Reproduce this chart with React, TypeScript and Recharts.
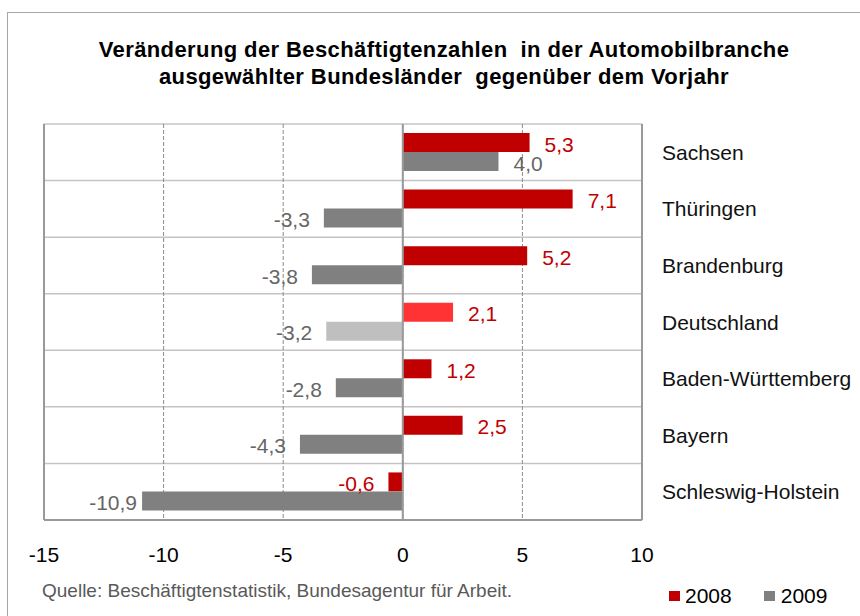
import { BarChart, Bar, XAxis, YAxis, CartesianGrid, ReferenceLine, Cell, LabelList } from "recharts";

const states = [
  "Sachsen",
  "Thüringen",
  "Brandenburg",
  "Deutschland",
  "Baden-Württemberg",
  "Bayern",
  "Schleswig-Holstein",
];
const values2008 = [5.3, 7.1, 5.2, 2.1, 1.2, 2.5, -0.6];
const values2009 = [4.0, -3.3, -3.8, -3.2, -2.8, -4.3, -10.9];
const xTicks = [-15, -10, -5, 0, 5, 10];
const highlighted = "Deutschland";
const seriesNames = ["2008", "2009"];

const data = states.map((name, i) => ({ name, v2008: values2008[i], v2009: values2009[i] }));

const FONT = "'Liberation Sans', Arial, Helvetica, sans-serif";
const RED = "#C00000";
const RED_LIGHT = "#FF3333";
const GRAY = "#808080";
const GRAY_LIGHT = "#BFBFBF";

const fmt = (v: number) => v.toFixed(1).replace(".", ",");

// value label: right of positive bars, left of negative ones
const makeLabel = (color: string) => (props: any) => {
  const { x, y, width, height, value } = props;
  const v = Number(value);
  const a = Number(x);
  const b = a + Number(width);
  const end = v >= 0 ? Math.max(a, b) : Math.min(a, b);
  const tx = v >= 0 ? end + 15 : end - (v < -10 ? 5 : 14);
  return (
    <text
      x={tx}
      y={Number(y) + Number(height) / 2 + 1.5}
      textAnchor={v >= 0 ? "start" : "end"}
      dominantBaseline="central"
      fill={color}
      fontSize={21}
      fontFamily={FONT}
    >
      {fmt(v)}
    </text>
  );
};

const XTick = (p: any) => (
  <text x={p.x} y={p.y + 42} textAnchor="middle" fill="#000" fontSize={21} fontFamily={FONT}>
    {p.payload.value}
  </text>
);

const YTick = (p: any) => (
  <text x={p.x + 20} y={p.y} dominantBaseline="central" textAnchor="start" fill="#111" fontSize={21} fontFamily={FONT}>
    {p.payload.value}
  </text>
);

export default function App() {
  return (
    <div
      style={{
        position: "absolute",
        left: 0,
        top: 0,
        width: 860,
        height: 616,
        overflow: "hidden",
        background: "#fff",
        fontFamily: FONT,
      }}
    >
      <div
        style={{
          position: "absolute",
          left: 7,
          top: 12,
          width: 900,
          height: 700,
          borderLeft: "1.5px solid #a6a6a6",
          borderTop: "1.5px solid #a6a6a6",
        }}
      />
      <div
        style={{
          position: "absolute",
          left: 44,
          top: 36,
          width: 800,
          textAlign: "center",
          fontWeight: "bold",
          fontSize: 22,
          letterSpacing: 0.4,
          lineHeight: "27px",
          whiteSpace: "pre",
          color: "#000",
        }}
      >
        {"Veränderung der Beschäftigtenzahlen  in der Automobilbranche\nausgewählter Bundesländer  gegenüber dem Vorjahr"}
      </div>

      <div style={{ position: "absolute", left: 0, top: 0 }}>
        <BarChart
          width={860}
          height={616}
          data={data}
          layout="vertical"
          margin={{ top: 124, right: 18, bottom: 66, left: 44 }}
          barGap={0}
        >
          <CartesianGrid
            vertical={false}
            stroke="#c4c4c4"
            strokeWidth={1.5}
            horizontalCoordinatesGenerator={({ offset }: any) => {
              const top = offset?.top ?? 124;
              const h = offset?.height ?? 396;
              return states.map((_, i) => top + (i * h) / states.length);
            }}
          />
          <CartesianGrid horizontal={false} stroke="#8c8c8c" strokeDasharray="4 2" />
          <XAxis
            type="number"
            domain={[-15, 10]}
            ticks={xTicks}
            allowDataOverflow
            axisLine={{ stroke: "#999", strokeWidth: 2 }}
            tickLine={false}
            tickSize={0}
            tickMargin={0}
            height={30}
            tick={XTick}
            interval={0}
          />
          <YAxis
            type="category"
            dataKey="name"
            orientation="right"
            width={200}
            axisLine={false}
            tickLine={false}
            tickSize={0}
            tickMargin={0}
            tick={YTick}
            interval={0}
          />
          <ReferenceLine x={-15} stroke="#999" strokeWidth={2} />
          <ReferenceLine x={10} stroke="#999" strokeWidth={2} />
          <Bar dataKey="v2008" name={seriesNames[0]} fill={RED} barSize={19} isAnimationActive={false}>
            {data.map((d) => (
              <Cell key={d.name} fill={d.name === highlighted ? RED_LIGHT : RED} />
            ))}
            <LabelList dataKey="v2008" content={makeLabel(RED)} />
          </Bar>
          <Bar dataKey="v2009" name={seriesNames[1]} fill={GRAY} barSize={19} isAnimationActive={false}>
            {data.map((d) => (
              <Cell key={d.name} fill={d.name === highlighted ? GRAY_LIGHT : GRAY} />
            ))}
            <LabelList dataKey="v2009" content={makeLabel("#666666")} />
          </Bar>
          <ReferenceLine x={0} stroke="#999" strokeWidth={2} />
        </BarChart>
      </div>

      <div
        style={{
          position: "absolute",
          left: 42,
          top: 579,
          fontSize: 19,
          color: "#595959",
          whiteSpace: "nowrap",
          lineHeight: "24px",
        }}
      >
        Quelle: Beschäftigtenstatistik, Bundesagentur für Arbeit.
      </div>

      <div
        style={{
          position: "absolute",
          left: 669,
          top: 582,
          display: "flex",
          alignItems: "center",
          fontSize: 21,
          lineHeight: "28px",
          color: "#000",
          whiteSpace: "nowrap",
        }}
      >
        <span style={{ width: 11, height: 10, background: RED, display: "inline-block", marginRight: 5 }} />
        <span style={{ marginRight: 32 }}>{seriesNames[0]}</span>
        <span style={{ width: 11, height: 10, background: GRAY, display: "inline-block", marginRight: 6 }} />
        <span>{seriesNames[1]}</span>
      </div>
    </div>
  );
}
